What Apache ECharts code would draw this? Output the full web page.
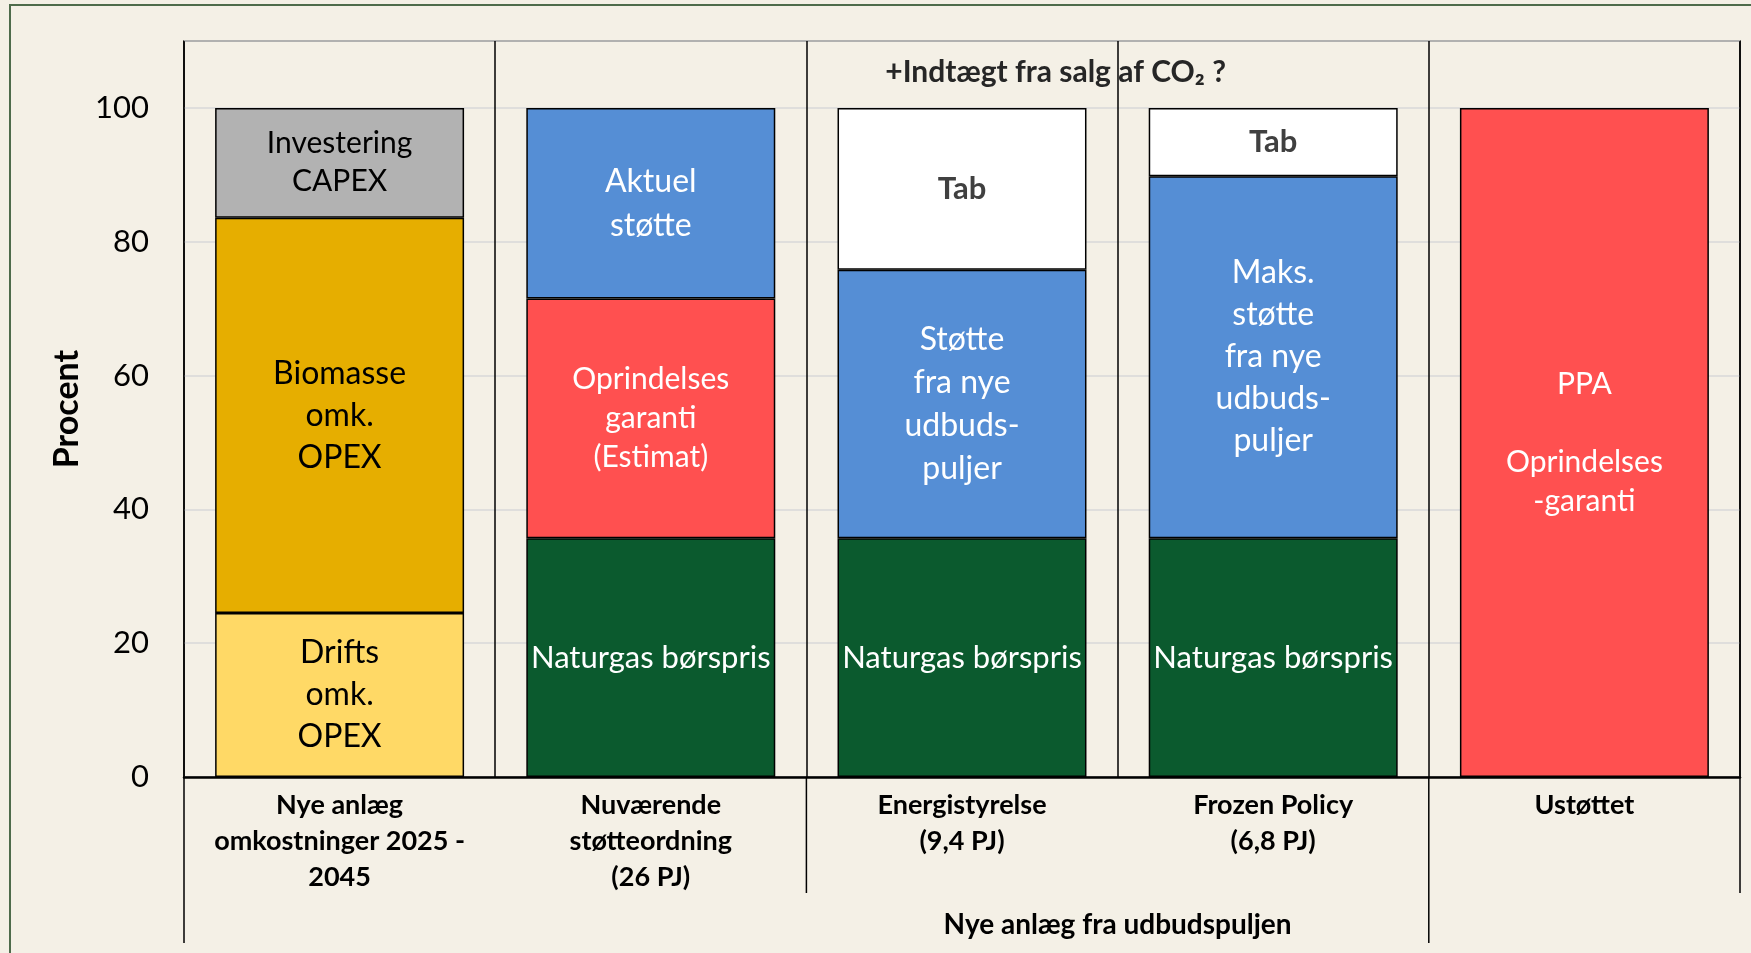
<!DOCTYPE html>
<html>
<head>
<meta charset="utf-8">
<script src="https://cdn.jsdelivr.net/npm/echarts@6/dist/echarts.min.js"></script>
<style>
  html, body { margin: 0; padding: 0; background: #F4F0E6; }
  #chart { width: 1751px; height: 953px; }
</style>
</head>
<body>
<div id="chart"></div>
<script>
// kategorier (x-akse)
const categories = [
  'Nye anlæg\nomkostninger 2025 -\n2045',
  'Nuværende\nstøtteordning\n(26 PJ)',
  'Energistyrelse\n(9,4 PJ)',
  'Frozen Policy\n(6,8 PJ)',
  'Ustøttet'
]
const groupLabel = 'Nye anlæg fra udbudspuljen'
const noteLabel = '+Indtægt fra salg af CO₂ ?'

// y-akse
const yMin = 0
const yMax = 110
const yStep = 20

// segmenter, nederst først (procent)
const drifts      = [24.5, null, null, null, null]
const naturgas    = [null, 35.7, 35.7, 35.7, null]
const ppa         = [null, null, null, null, 100]
const biomasse    = [59.1, null, null, null, null]
const oprindelse  = [null, 35.8, null, null, null]
const stotteNy    = [null, null, 40.1, null, null]
const maksStotte  = [null, null, null, 54.1, null]
const capex       = [16.4, null, null, null, null]
const aktuel      = [null, 28.5, null, null, null]
const tab         = [null, null, 24.2, 10.2, null]

const FONT = 'Lato, "DejaVu Sans", sans-serif'

function seg(name, data, color, text, textColor, size, lh, bold) {
  return {
    name: name,
    type: 'bar',
    stack: 'total',
    data: data,
    barCategoryGap: '20%',
    itemStyle: { color: color, borderColor: '#000', borderWidth: 1.5 },
    label: {
      show: true,
      position: 'inside',
      formatter: text,
      color: textColor,
      fontFamily: FONT,
      fontSize: size,
      lineHeight: lh,
      fontWeight: bold ? 'bold' : 'normal'
    },
    emphasis: { disabled: true }
  }
}

const series = [
  seg('Drifts omk. OPEX', drifts, '#FFD966', 'Drifts\nomk.\nOPEX', '#000', 32, 42),
  seg('Naturgas børspris', naturgas, '#0B5A2E', 'Naturgas børspris', '#fff', 31, 40),
  seg('PPA', ppa, '#FF5050', 'PPA\n\nOprindelses\n-garanti', '#fff', 30, 39),
  seg('Biomasse omk. OPEX', biomasse, '#E6AE00', 'Biomasse\nomk.\nOPEX', '#000', 32, 42),
  seg('Oprindelses garanti', oprindelse, '#FF5050', 'Oprindelses\ngaranti\n(Estimat)', '#fff', 30, 39),
  seg('Støtte fra nye udbudspuljer', stotteNy, '#558ED5', 'Støtte\nfra nye\nudbuds-\npuljer', '#fff', 32, 43),
  seg('Maks. støtte', maksStotte, '#558ED5', 'Maks.\nstøtte\nfra nye\nudbuds-\npuljer', '#fff', 32, 42),
  seg('Investering CAPEX', capex, '#B2B2B2', 'Investering\nCAPEX', '#000', 30, 38),
  seg('Aktuel støtte', aktuel, '#558ED5', 'Aktuel\nstøtte', '#fff', 32, 44),
  seg('Tab', tab, '#FFFFFF', 'Tab', '#404040', 31, 36, true)
]

const chart = echarts.init(document.getElementById('chart'))

chart.setOption({
  backgroundColor: '#F4F0E6',
  animation: false,
  grid: {
    left: 184, top: 41, right: 11, bottom: 176,
    show: true, borderColor: '#000', borderWidth: 1.5,
    containLabel: false
  },
  xAxis: {
    type: 'category',
    data: categories,
    axisLine: { lineStyle: { color: '#000', width: 2.5 } },
    axisTick: { show: false },
    splitLine: { show: true, interval: 0, lineStyle: { color: '#000', width: 1.5 } },
    axisLabel: {
      interval: 0,
      margin: 10,
      color: '#000',
      fontFamily: FONT,
      fontWeight: 'bold',
      fontSize: 27,
      lineHeight: 36
    }
  },
  yAxis: {
    type: 'value',
    min: yMin, max: yMax, interval: yStep,
    name: 'Procent',
    nameLocation: 'middle',
    nameRotate: 90,
    nameGap: 98,
    nameTextStyle: { color: '#000', fontFamily: FONT, fontWeight: 'bold', fontSize: 34 },
    axisLine: { show: false },
    axisTick: { show: false },
    axisLabel: {
      showMaxLabel: false,
      margin: 35,
      color: '#000',
      fontFamily: FONT,
      fontSize: 31,
      formatter: v => (v > 100 ? '' : v)
    },
    splitLine: { lineStyle: { color: '#D9D9D9', width: 1.5 } }
  },
  series: series
})

// linjer under aksen + tekster, placeret ud fra aksernes skala
const c0 = chart.convertToPixel({ xAxisIndex: 0 }, 0)
const c1 = chart.convertToPixel({ xAxisIndex: 0 }, 1)
const band = c1 - c0
const edge = i => c0 - band / 2 + i * band
const y0 = chart.convertToPixel({ yAxisIndex: 0 }, 0)
const yTop = chart.convertToPixel({ yAxisIndex: 0 }, 105.3)

function vline(id, x, len) {
  return {
    id: id, type: 'line', silent: true,
    shape: { x1: x, y1: y0, x2: x, y2: y0 + len },
    style: { stroke: '#000', lineWidth: 1.5 }
  }
}

chart.setOption({
  graphic: [
    {
      id: 'frame', type: 'rect', silent: true,
      shape: { x: 10, y: 5, width: 1800, height: 1000 },
      style: { fill: null, stroke: '#4E6B4B', lineWidth: 2 }
    },
    vline('l0', edge(0), 166),
    vline('l2', edge(2), 116),
    vline('l4', edge(4), 166),
    vline('l5', edge(5), 116),
    {
      id: 'group', type: 'text', silent: true,
      x: edge(3), y: y0 + 166 - 18,
      style: {
        text: groupLabel, fill: '#000', font: 'bold 28px ' + FONT,
        align: 'center', verticalAlign: 'middle'
      }
    },
    {
      id: 'note', type: 'text', silent: true,
      x: edge(3) - 62, y: yTop,
      style: {
        text: noteLabel, fill: '#262626', font: 'bold 30px ' + FONT,
        align: 'center', verticalAlign: 'middle'
      }
    }
  ]
})
</script>
</body>
</html>
